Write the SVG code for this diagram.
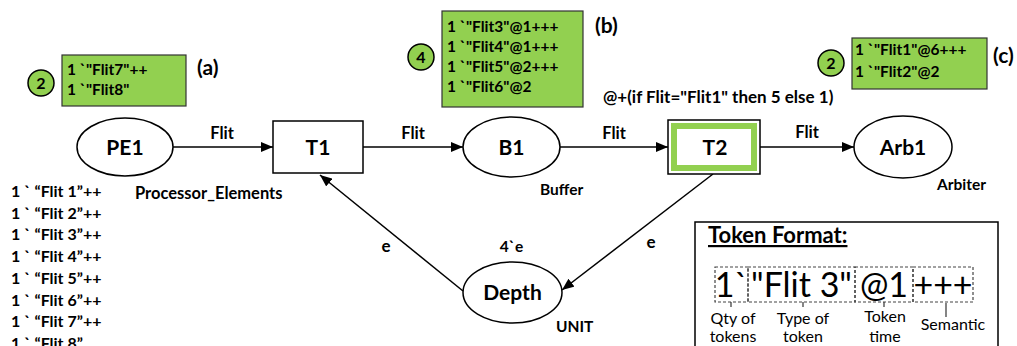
<svg xmlns="http://www.w3.org/2000/svg" width="1017" height="346" viewBox="0 0 1017 346">
<style>
text{font-family:Lato,"Liberation Sans",sans-serif;fill:#000}
.b{font-weight:bold}
.node{fill:#fff;stroke:#000;stroke-width:1.5}
.tok{fill:#92D050;stroke:#333;stroke-width:1.2}
.cnt{fill:#92D050;stroke:#000;stroke-width:1.5}
.c{text-anchor:middle}
.edge{stroke:#000;stroke-width:1.5;fill:none;marker-end:url(#ah)}
.dash{fill:none;stroke:#444;stroke-width:1.2;stroke-dasharray:3 2}
</style>
<defs>
<marker id="ah" viewBox="0 0 12 10" refX="12" refY="5" markerWidth="12" markerHeight="10" markerUnits="userSpaceOnUse" orient="auto">
<path d="M0,0 L12,5 L0,10 Z" fill="#000"/>
</marker>
</defs>
<rect width="1017" height="346" fill="#fff"/>

<g id="connectors">
<line class="edge" x1="173" y1="147" x2="273" y2="147"/>
<line class="edge" x1="363" y1="147" x2="463" y2="147"/>
<line class="edge" x1="560" y1="147" x2="668" y2="147"/>
<line class="edge" x1="760" y1="147" x2="854" y2="147"/>
<line class="edge" x1="463" y1="291" x2="320" y2="175"/>
<line class="edge" x1="713" y1="174" x2="562" y2="290"/>
<text class="b c" x="222" y="139" font-size="16.5">Flit</text>
<text class="b c" x="413" y="139" font-size="16.5">Flit</text>
<text class="b c" x="614" y="139" font-size="16.5">Flit</text>
<text class="b c" x="807" y="138" font-size="16.5">Flit</text>
<text class="b c" x="386" y="252" font-size="17">e</text>
<text class="b c" x="651" y="248" font-size="17">e</text>
</g>

<g id="PE1">
<ellipse class="node" cx="125" cy="147" rx="48" ry="29"/>
<text class="b c" x="125" y="155" font-size="21">PE1</text>
<text class="b" x="135" y="199" font-size="16.5">Processor_Elements</text>
<g class="b" font-size="16">
<text x="11" y="197">1 ` “Flit 1”++</text>
<text x="11" y="218.7">1 ` “Flit 2”++</text>
<text x="11" y="240.4">1 ` “Flit 3”++</text>
<text x="11" y="262.1">1 ` “Flit 4”++</text>
<text x="11" y="283.8">1 ` “Flit 5”++</text>
<text x="11" y="305.5">1 ` “Flit 6”++</text>
<text x="11" y="327.2">1 ` “Flit 7”++</text>
<text x="11" y="348.9">1 ` “Flit 8”</text>
</g>
</g>

<g id="marking-a">
<circle class="cnt" cx="41" cy="83" r="13"/>
<text class="b c" x="41" y="89" font-size="16">2</text>
<rect class="tok" x="62" y="55" width="124" height="51"/>
<text class="b" x="67" y="75" font-size="15.5">1 `"Flit7"++</text>
<text class="b" x="67" y="95" font-size="15.5">1 `"Flit8"</text>
<text class="b" x="197" y="75" font-size="21">(a)</text>
</g>

<g id="T1">
<rect class="node" x="273" y="121" width="90" height="52"/>
<text class="b c" x="318" y="155" font-size="21">T1</text>
</g>

<g id="B1">
<ellipse class="node" cx="511.5" cy="147" rx="48.5" ry="30"/>
<text class="b c" x="511.5" y="155" font-size="21">B1</text>
<text class="b" x="540" y="195" font-size="15.5">Buffer</text>
</g>

<g id="marking-b">
<circle class="cnt" cx="421" cy="57" r="13"/>
<text class="b c" x="421" y="63" font-size="16">4</text>
<rect class="tok" x="442" y="11" width="141" height="96"/>
<text class="b" x="447" y="32" font-size="15.5">1 `"Flit3"@1+++</text>
<text class="b" x="447" y="52" font-size="15.5">1 `"Flit4"@1+++</text>
<text class="b" x="447" y="72" font-size="15.5">1 `"Flit5"@2+++</text>
<text class="b" x="447" y="92" font-size="15.5">1 `"Flit6"@2</text>
<text class="b" x="595" y="33" font-size="21">(b)</text>
</g>

<g id="T2">
<rect class="node" x="668" y="120" width="92" height="54"/>
<rect x="674" y="126" width="80" height="42" fill="none" stroke="#92D050" stroke-width="6"/>
<text class="b c" x="715" y="155" font-size="21">T2</text>
<text class="b" x="603" y="103" font-size="17">@+(if Flit="Flit1" then 5 else 1)</text>
</g>

<g id="Arb1">
<ellipse class="node" cx="903" cy="147" rx="49" ry="31"/>
<text class="b c" x="903" y="155" font-size="21">Arb1</text>
<text class="b" x="937" y="190" font-size="15.5">Arbiter</text>
</g>

<g id="marking-c">
<circle class="cnt" cx="831" cy="63" r="13"/>
<text class="b c" x="831" y="69" font-size="16">2</text>
<rect class="tok" x="852" y="38" width="135" height="51"/>
<text class="b" x="855" y="55" font-size="15.5">1 `"Flit1"@6+++</text>
<text class="b" x="855" y="77" font-size="15.5">1 `"Flit2"@2</text>
<text class="b" x="993" y="63" font-size="21">(c)</text>
</g>

<g id="Depth">
<ellipse class="node" cx="512.5" cy="292.5" rx="49.5" ry="30.5"/>
<text class="b c" x="512.5" y="300" font-size="21">Depth</text>
<text class="b c" x="511.5" y="252" font-size="15.5">4`e</text>
<text class="b" x="556" y="332" font-size="15.5">UNIT</text>
</g>

<g id="token-format">
<polyline points="695,346 695,222 998,222 998,346" fill="#fff" stroke="#000" stroke-width="1.5"/>
<text class="b" x="708" y="243" font-size="22" text-decoration="underline">Token Format:</text>
<rect class="dash" x="715" y="267" width="33" height="35"/>
<rect class="dash" x="748" y="267" width="107" height="35"/>
<rect class="dash" x="855" y="267" width="58" height="35"/>
<rect class="dash" x="913" y="267" width="60" height="35"/>
<g font-size="34">
<text class="c" x="731.5" y="297">1`</text>
<text class="c" x="801.5" y="297">"Flit 3"</text>
<text class="c" x="884" y="297">@1</text>
<text class="c" x="943" y="297">+++</text>
</g>
<g stroke="#333" stroke-width="1.2">
<line x1="731" y1="302" x2="731" y2="307"/>
<line x1="803" y1="302" x2="803" y2="307"/>
<line x1="884" y1="302" x2="884" y2="307"/>
<line x1="946" y1="303" x2="946" y2="317"/>
</g>
<g font-size="16">
<text class="c" x="733" y="324">Qty of</text>
<text class="c" x="733" y="342">tokens</text>
<text class="c" x="803" y="324">Type of</text>
<text class="c" x="803" y="342">token</text>
<text class="c" x="885" y="322">Token</text>
<text class="c" x="885" y="342">time</text>
<text class="c" x="953" y="330">Semantic</text>
</g>
</g>
</svg>
